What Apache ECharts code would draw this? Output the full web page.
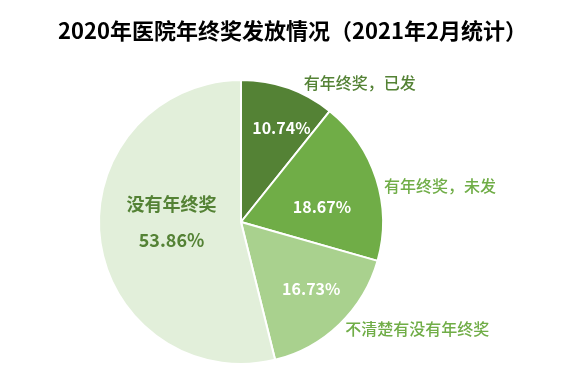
<!DOCTYPE html>
<html>
<head>
<meta charset="utf-8">
<script src="https://cdn.jsdelivr.net/npm/echarts@6/dist/echarts.min.js"></script>
<style>html,body{margin:0;padding:0;background:#fff}#c{width:585px;height:383px}</style>
</head>
<body>
<div id="c"></div>
<script>
const titleText = '2020年医院年终奖发放情况（2021年2月统计）';
const categories = ['有年终奖，已发', '有年终奖，未发', '不清楚有没有年终奖', '没有年终奖'];
const values = [10.74, 18.67, 16.73, 53.86];

const sliceColors = ['#548235', '#70AD47', '#A9D18E', '#E2EFDA'];
const outsideLabelColors = ['#548235', '#70AD47', '#70AD47', null];
const FONT = '"Noto Sans CJK SC", "Noto Sans", sans-serif';
const CENTER = [241, 222];
const R = 142;

// label nudges (pixels) to mimic the original label placement
const outsideShift = [[9, 0], [-2, 9], [-3, 1], [0, 0]];
const insideShift = [[6, 4], [0, 11], [-2, -8], [8, -9]];

function pct(v) { return v.toFixed(2) + '%'; }

const mainData = categories.map((name, i) => ({
  name, value: values[i],
  itemStyle: { color: sliceColors[i] },
  label: outsideLabelColors[i] ? {
    show: true, position: 'outside', color: outsideLabelColors[i],
    fontSize: 16, fontWeight: 500, fontFamily: FONT, formatter: '{b}'
  } : { show: false }
}));

function overlay(r0, showIdx, labelFn) {
  return {
    type: 'pie', radius: [r0, R], center: CENTER, startAngle: 90,
    silent: true, animation: false,
    itemStyle: { color: 'rgba(0,0,0,0)', borderWidth: 0 },
    labelLine: { show: false },
    emphasis: { disabled: true },
    labelLayout: p => ({ dx: insideShift[p.dataIndex][0], dy: insideShift[p.dataIndex][1] }),
    data: categories.map((name, i) => ({
      name, value: values[i],
      label: showIdx.includes(i) ? Object.assign({ show: true, position: 'inside' }, labelFn(i)) : { show: false }
    }))
  };
}

const whiteLabel = i => ({
  color: '#fff', fontSize: 16, fontWeight: 'bold', fontFamily: FONT,
  formatter: () => pct(values[i])
});

const chart = echarts.init(document.getElementById('c'), null, { renderer: 'canvas' });
chart.setOption({
  animation: false,
  title: {
    text: titleText, left: 'center', top: 15,
    textStyle: { fontSize: 22, fontWeight: 'bold', color: '#000', fontFamily: FONT }
  },
  series: [
    {
      type: 'pie', radius: [0, R], center: CENTER, startAngle: 90,
      animation: false,
      itemStyle: { borderColor: '#fff', borderWidth: 2 },
      labelLine: { show: false, length: 5, length2: 0 },
      label: { distanceToLabelLine: 5 },
      labelLayout: p => ({ dx: outsideShift[p.dataIndex][0], dy: outsideShift[p.dataIndex][1] }),
      emphasis: { disabled: true },
      data: mainData
    },
    overlay(60, [0, 2], whiteLabel),
    overlay(22, [1], whiteLabel),
    overlay(8, [3], i => ({
      fontFamily: FONT,
      formatter: () => '{a|' + categories[i] + '}\n{b|' + pct(values[i]) + '}',
      rich: {
        a: { color: '#548235', fontSize: 18, fontWeight: 'bold', fontFamily: FONT, lineHeight: 36 },
        b: { color: '#548235', fontSize: 18, fontWeight: 'bold', fontFamily: FONT, lineHeight: 36 }
      }
    }))
  ]
});
</script>
</body>
</html>
